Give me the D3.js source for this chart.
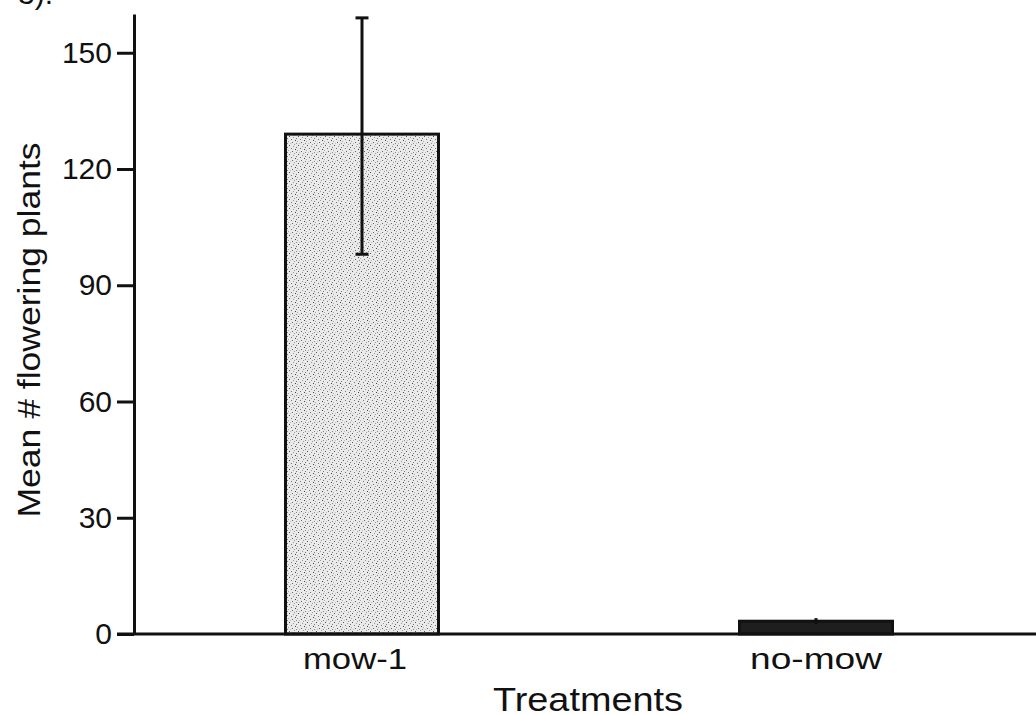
<!DOCTYPE html>
<html>
<head>
<meta charset="utf-8">
<script src="https://cdn.jsdelivr.net/npm/d3@7"></script>
<style>
  html, body { margin: 0; padding: 0; background: #fff; }
  svg { display: block; font-family: "Liberation Sans", Arial, Helvetica, sans-serif; }
</style>
</head>
<body>
<svg id="chart" width="1036" height="715"></svg>
<script>
// ---- data ----
const categories = ["mow-1", "no-mow"];
const means = [129, 3.3];
const errLow = [98, 2.5];
const errHigh = [159, 4.1];
const yTicks = [0, 30, 60, 90, 120, 150];
const barFills = ["url(#stipple)", "#1e1e1e"];

const W = 1036, H = 715;
const svg = d3.select("#chart");

// stipple pattern for the light bar
const defs = svg.append("defs");
const pat = defs.append("pattern")
  .attr("id", "stipple").attr("patternUnits", "userSpaceOnUse")
  .attr("width", 9).attr("height", 9);
pat.append("rect").attr("width", 9).attr("height", 9).attr("fill", "#eaeaea");
const dots = [[1,1,"#555"],[5,2,"#999"],[3,4,"#777"],[7,5,"#444"],[0,6,"#aaa"],[4,7,"#666"],[8,8,"#888"],[2,8,"#bbb"],[6,0,"#999"],[8,3,"#777"]];
dots.forEach(d => pat.append("rect").attr("x", d[0]).attr("y", d[1]).attr("width", 1).attr("height", 1).attr("fill", d[2]));

const y = d3.scaleLinear().domain([0, 160]).range([634, 14]);
const x = d3.scaleBand().domain(categories).range([134, 1044])
  .paddingInner(0.663).paddingOuter(0.3337);

const axisX = 134;

// bars
svg.selectAll("rect.bar").data(categories).join("rect")
  .attr("class", "bar")
  .attr("x", d => x(d))
  .attr("y", (d, i) => y(means[i]))
  .attr("width", x.bandwidth())
  .attr("height", (d, i) => y(0) - y(means[i]))
  .attr("fill", (d, i) => barFills[i])
  .attr("stroke", "#111").attr("stroke-width", 3);

// error bars
const capW = 13;
categories.forEach((c, i) => {
  const cx = x(c) + x.bandwidth() / 2;
  const g = svg.append("g").attr("stroke", "#111").attr("stroke-width", 3);
  g.append("line").attr("x1", cx).attr("x2", cx).attr("y1", y(errLow[i])).attr("y2", y(errHigh[i]));
  if (i === 0) {
    g.append("line").attr("x1", cx - capW/2).attr("x2", cx + capW/2).attr("y1", y(errHigh[i])).attr("y2", y(errHigh[i]));
    g.append("line").attr("x1", cx - capW/2).attr("x2", cx + capW/2).attr("y1", y(errLow[i])).attr("y2", y(errLow[i]));
  }
});

// x axis baseline
svg.append("line").attr("x1", axisX - 17).attr("x2", W).attr("y1", y(0)).attr("y2", y(0))
  .attr("stroke", "#111").attr("stroke-width", 3);

// y axis
const yAxis = svg.append("g").attr("transform", `translate(${axisX},0)`)
  .call(d3.axisLeft(y).tickValues(yTicks).tickSize(17).tickSizeOuter(0).tickPadding(5));
yAxis.select(".domain").attr("stroke", "#111").attr("stroke-width", 3);
yAxis.selectAll(".tick line").attr("stroke", "#111").attr("stroke-width", 3);
yAxis.selectAll(".tick text").attr("font-size", 30).attr("fill", "#111")
  .attr("font-family", "Liberation Sans, Arial, sans-serif");

// category labels
const catLen = [104, 132];
svg.selectAll("text.cat").data(categories).join("text")
  .attr("class", "cat")
  .attr("x", (d, i) => x(d) + x.bandwidth() / 2 + (i === 0 ? -7 : 0))
  .attr("y", 669)
  .attr("text-anchor", "middle")
  .attr("font-size", 30).attr("fill", "#111")
  .attr("textLength", (d, i) => catLen[i]).attr("lengthAdjust", "spacingAndGlyphs")
  .text(d => d);

// axis titles
svg.append("text").attr("x", 588).attr("y", 711).attr("text-anchor", "middle")
  .attr("font-size", 34).attr("fill", "#111")
  .attr("textLength", 190).attr("lengthAdjust", "spacingAndGlyphs")
  .text("Treatments");
svg.append("text").attr("transform", "translate(40,330) rotate(-90)")
  .attr("text-anchor", "middle").attr("font-size", 32).attr("fill", "#111")
  .attr("textLength", 375).attr("lengthAdjust", "spacingAndGlyphs")
  .text("Mean # flowering plants");

// clipped panel label at top-left
svg.append("text").attr("x", 18).attr("y", 4).attr("font-size", 30).attr("fill", "#111").text("3).");
</script>
</body>
</html>
